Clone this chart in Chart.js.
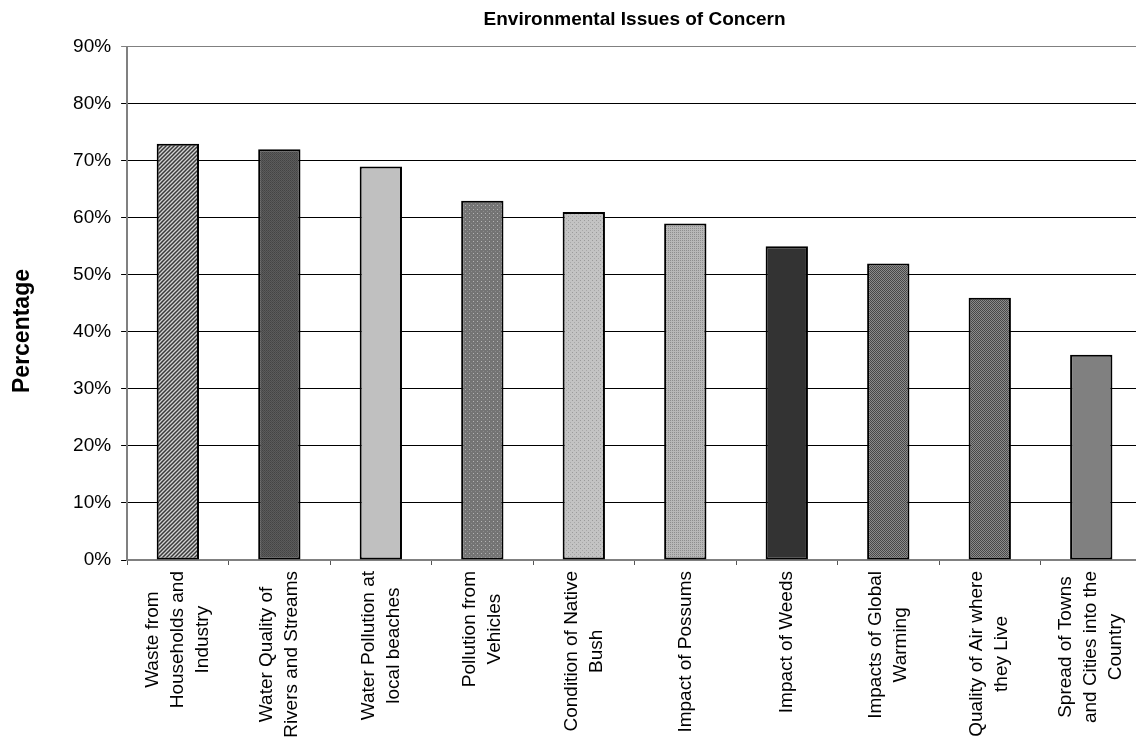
<!DOCTYPE html>
<html><head><meta charset="utf-8">
<script src="https://cdn.jsdelivr.net/npm/chart.js@4"></script>
<style>html,body{margin:0;padding:0;background:#fff;overflow:hidden}canvas{display:block}</style>
</head><body>
<canvas id="c" width="1142" height="742" style="width:1142px;height:742px"></canvas>
<script>
// ---- data ----
const categories = [
  ["Waste from", "Households and", "Industry"],
  ["Water Quality of", "Rivers and Streams"],
  ["Water Pollution at", "local beaches"],
  ["Pollution from", "Vehicles"],
  ["Condition of Native", "Bush"],
  ["Impact of Possums"],
  ["Impact of Weeds"],
  ["Impacts of Global", "Warming"],
  ["Quality of Air where", "they Live"],
  ["Spread of Towns", "and Cities into the", "Country"]
];
const values = [73, 72, 69, 63, 61, 59, 55, 52, 46, 36];
const yTickValues = [0, 10, 20, 30, 40, 50, 60, 70, 80, 90];
const yTickLabels = ["0%", "10%", "20%", "30%", "40%", "50%", "60%", "70%", "80%", "90%"];
const chartTitle = "Environmental Issues of Concern";
const yAxisTitle = "Percentage";

// ---- fill patterns (styles) ----
const FONT = '"Liberation Sans", Arial, sans-serif';
const helper = document.createElement('canvas').getContext('2d');
function pat(w, h, draw) {
  const c = document.createElement('canvas'); c.width = w; c.height = h;
  const g = c.getContext('2d'); draw(g);
  return helper.createPattern(c, 'repeat');
}
function px(g, x, y, col) { g.fillStyle = col; g.fillRect(x, y, 1, 1); }
const fills = [
  pat(4, 4, g => { g.fillStyle = '#d2d2d2'; g.fillRect(0,0,4,4); g.strokeStyle = '#3a3a3a'; g.lineWidth = 1.5;
    g.beginPath(); g.moveTo(-1,5); g.lineTo(5,-1); g.moveTo(-1,1); g.lineTo(1,-1); g.moveTo(3,5); g.lineTo(5,3); g.stroke(); }),
  pat(2, 2, g => { g.fillStyle = '#5c5c5c'; g.fillRect(0,0,2,2); px(g,0,0,'#444'); px(g,1,1,'#4c4c4c'); }),
  '#c0c0c0',
  pat(4, 4, g => { g.fillStyle = '#747474'; g.fillRect(0,0,4,4); px(g,1,1,'#b4b4b4'); px(g,3,3,'#8c8c8c'); }),
  pat(4, 4, g => { g.fillStyle = '#c3c3c3'; g.fillRect(0,0,4,4); px(g,0,0,'#9a9a9a'); px(g,2,2,'#a8a8a8'); }),
  pat(2, 2, g => { g.fillStyle = '#b8b8b8'; g.fillRect(0,0,2,2); px(g,0,0,'#8e8e8e'); }),
  '#333333',
  pat(2, 2, g => { g.fillStyle = '#8c8c8c'; g.fillRect(0,0,2,2); px(g,0,0,'#484848'); px(g,1,1,'#484848'); }),
  pat(2, 2, g => { g.fillStyle = '#8c8c8c'; g.fillRect(0,0,2,2); px(g,0,0,'#484848'); px(g,1,1,'#484848'); }),
  '#808080'
];

const textPlugin = {
  id: 'textPlugin',
  afterDraw(chart) {
    const ctx = chart.ctx, area = chart.chartArea, xs = chart.scales.x;
    ctx.save();
    ctx.fillStyle = '#000';
    // title
    ctx.font = 'bold 19px ' + FONT;
    ctx.textAlign = 'center'; ctx.textBaseline = 'alphabetic';
    ctx.fillText(chartTitle, (area.left + area.right) / 2, 25);
    // y axis title
    ctx.save();
    ctx.translate(23, 331); ctx.rotate(-Math.PI / 2);
    ctx.font = 'bold 23px ' + FONT; ctx.textBaseline = 'middle';
    ctx.fillText(yAxisTitle, 0, 0);
    ctx.restore();
    // category labels, rotated, lines centred
    ctx.font = '19px ' + FONT;
    const lh = 25, top = 571;
    categories.forEach((lines, i) => {
      const cx = xs.getPixelForValue(i);
      const W = Math.max(...lines.map(l => ctx.measureText(l).width));
      ctx.save();
      ctx.translate(cx, top); ctx.rotate(-Math.PI / 2);
      ctx.textAlign = 'center'; ctx.textBaseline = 'middle';
      lines.forEach((l, k) => ctx.fillText(l, -W / 2, (k - (lines.length - 1) / 2) * lh));
      ctx.restore();
    });
    ctx.restore();
  }
};

new Chart(document.getElementById('c'), {
  type: 'bar',
  data: {
    labels: categories.map(c => c.join(' ')),
    datasets: [{
      data: values,
      backgroundColor: fills,
      borderColor: '#000',
      borderWidth: 2,
      borderSkipped: false,
      barPercentage: 0.417,
      categoryPercentage: 1
    }]
  },
  options: {
    responsive: false,
    devicePixelRatio: 1,
    animation: false,
    events: [],
    layout: { padding: { top: 46.7, left: 0, right: 0, bottom: 0 } },
    plugins: { legend: { display: false }, title: { display: false }, tooltip: { enabled: false } },
    scales: {
      x: {
        grid: { display: true, drawOnChartArea: false, drawTicks: true, tickLength: 5, color: '#555', offset: true },
        border: { display: true, color: '#808080', width: 2 },
        ticks: { display: true, callback: () => '', autoSkip: false, maxRotation: 0 },
        afterFit(s) { s.height = 182; }
      },
      y: {
        min: 0, max: 90,
        afterBuildTicks(s) { s.ticks = yTickValues.map(v => ({ value: v })); },
        ticks: { color: '#000', font: { size: 19, family: FONT }, padding: 10,
          callback: (v, i) => yTickLabels[i] },
        grid: { color: c => (c.tick && c.tick.value === 90) ? '#808080' : '#000', lineWidth: 1, tickLength: 6, drawTicks: true },
        border: { display: true, color: '#808080', width: 2 },
        afterFit(s) { s.width = 127.1; }
      }
    }
  },
  plugins: [textPlugin]
});
</script>
</body></html>
